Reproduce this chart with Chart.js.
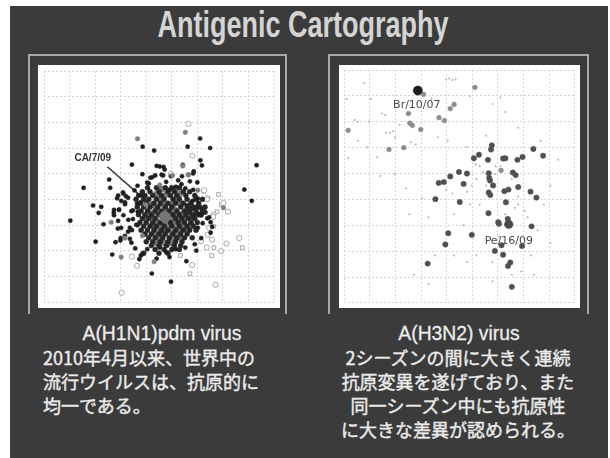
<!DOCTYPE html>
<html>
<head>
<meta charset="utf-8">
<script src="https://cdn.jsdelivr.net/npm/chart.js@4"></script>
<style>
  html, body { margin:0; padding:0; background:#fff; }
  body { width:610px; height:458px; position:relative; overflow:hidden; }
  .slide { position:absolute; left:10px; top:6px; width:598px; height:452px; background:#3b3b3b; }
  .title { position:absolute; left:0; width:606px; top:7px; text-align:center; color:#d4d4d4;
    font:bold 36px/36px "Liberation Sans", Arial, sans-serif; transform:scaleX(.75); }
  .frame { position:absolute; top:54px; height:258px; border:2px solid #a9a9a9; border-bottom:none; }
  .plot { position:absolute; top:65px; background:#fff; }
  .cap { position:absolute; color:#ececec; }
  .head { font:21px/24px "Liberation Sans", Arial, sans-serif; text-align:center; transform:scaleX(.92); -webkit-text-stroke:.3px #ececec; }
  .jp { font:18px/24px "Noto Sans CJK JP", sans-serif; -webkit-text-stroke:.4px #ececec; }
</style>
</head>
<body>
<div class="slide"></div>
<div class="title">Antigenic Cartography</div>
<div class="frame" style="left:28px;width:255px"></div>
<div class="frame" style="left:328px;width:257px"></div>
<canvas id="h1n1" class="plot" width="242" height="243" style="left:38px"></canvas>
<canvas id="h3n2" class="plot" width="241" height="243" style="left:339px"></canvas>

<div class="cap head" style="left:62px;width:200px;top:321px">A(H1N1)pdm virus</div>
<div class="cap jp" style="left:43px;top:345px;width:250px">2010年4月以来、世界中の<br>流行ウイルスは、抗原的に<br>均一である。</div>
<div class="cap head" style="left:359px;width:200px;top:321px">A(H3N2) virus</div>
<div class="cap jp" style="left:318px;top:345px;width:280px;text-align:center">2シーズンの間に大きく連続<br>抗原変異を遂げており、また<br>同一シーズン中にも抗原性<br>に大きな差異が認められる。</div>

<script>
// grid units: 0..9 across, 0..9 down (y axis reversed)
const h1Dark = [
  [1.03,5.83],[1.55,4.55],[8.32,3.67],[7.84,4.62],[8.13,5.06],[6.11,2.63],[6.5,3.0],[5.62,2.95],[4.31,3.1],
  [3.86,2.95],[5.43,3.66],[6.12,3.48],[6.18,3.68],[3.44,3.65],[3.85,4.02],[2.55,4.23],[2.59,4.55],[1.92,5.24],
  [2.24,5.29],[2.14,5.53],[2.33,5.97],[2.02,6.65],[2.67,7.15],[4.22,7.89],[4.97,8.21],[5.57,7.41],
  [3.09,4.73],[2.9,4.85],[3.21,4.88],[3.02,5.06],[3.17,5.12],[2.74,5.41],[2.93,5.41],[2.74,5.62],[3.11,5.62],
  [2.9,5.84],[3.3,5.8],[3.02,6.11],[3.36,6.11],[3.61,5.99],[3.17,6.42],[2.99,6.6],[2.8,6.67],[3.36,6.54],
  [3.48,5.43],[3.67,5.49],[3.79,5.12],[4.1,4.38],[4.23,4.14],[4.41,3.7],[4.53,3.72],[4.68,3.74],[4.72,3.84],
  [5.84,3.99],[6.0,4.34],[5.71,4.3],[5.25,4.26],[5.38,4.41],[5.53,4.57],[5.84,4.63],[6.02,4.97],[5.81,5.06],
  [6.39,5.74],[6.15,5.62],[6.21,5.93],[6.52,6.3],[6.02,6.11],[4.35,4.07],[4.66,4.07],[4.78,4.32],[5.16,4.51],
  [4.91,4.63],[2.73,5.52],[2.94,5.4],[3.17,5.19],[3.29,4.94],[3.11,4.78],[2.86,4.96],[2.89,6.14],[3.29,6.26],
  [3.0,6.51],[3.42,6.69],[3.57,6.91],[3.85,7.12],[4.04,6.94],[4.53,6.88],[4.78,7.06],[5.16,6.94],[5.53,6.88],
  [5.9,6.75],[6.15,6.51],[5.96,7.0],[4.91,7.25],[4.41,7.31],[3.79,7.19],[3.73,7.33],[6.46,5.7],[6.58,6.07],
  [6.52,5.89],[6.09,5.58],[5.86,3.91],[5.65,4.04],[5.4,4.1],[4.97,4.1],[4.6,4.04],[4.16,4.16],[4.04,4.35],
  [3.66,4.47],[3.54,4.65],[3.79,4.84],[3.64,5.17],[3.42,5.46],[3.48,5.77],[3.66,6.01],[3.44,6.2]
];
const h1DarkCore = [
  [4.05,4.55],[4.4,4.55],[4.75,4.55],[5.0,4.55],[5.3,4.55],
  [3.85,4.7],[4.15,4.7],[4.5,4.7],[4.85,4.7],[5.1,4.7],[5.45,4.7],[5.7,4.7],
  [3.7,4.85],[3.95,4.85],[4.25,4.85],[4.6,4.85],[4.95,4.85],[5.2,4.85],[5.55,4.85],[5.9,4.85],
  [3.6,5.0],[3.9,5.0],[4.1,5.0],[4.4,5.0],[4.7,5.0],[5.05,5.0],[5.3,5.0],[5.6,5.0],[5.95,5.0],[6.2,5.0],
  [3.75,5.15],[4.0,5.15],[4.3,5.15],[4.55,5.15],[4.85,5.15],[5.15,5.15],[5.45,5.15],[5.75,5.15],[6.05,5.15],
  [3.65,5.3],[3.9,5.3],[4.15,5.3],[4.45,5.3],[4.75,5.3],[5.0,5.3],[5.35,5.3],[5.65,5.3],[5.85,5.3],[6.1,5.3],[6.3,5.3],
  [3.8,5.45],[4.05,5.45],[4.35,5.45],[4.6,5.45],[4.9,5.45],[5.2,5.45],[5.5,5.45],[5.7,5.45],[5.95,5.45],[6.2,5.45],
  [3.7,5.6],[3.95,5.6],[4.2,5.6],[4.5,5.6],[5.05,5.6],[5.3,5.6],[5.55,5.6],[5.8,5.6],[6.05,5.6],
  [3.85,5.75],[4.1,5.75],[4.35,5.75],[5.15,5.75],[5.4,5.75],[5.65,5.75],[5.9,5.75],
  [3.75,5.9],[4.0,5.9],[4.25,5.9],[4.55,5.9],[4.95,5.9],[5.25,5.9],[5.5,5.9],[5.75,5.9],[6.0,5.9],
  [3.9,6.05],[4.15,6.05],[4.4,6.05],[4.7,6.05],[5.0,6.05],[5.3,6.05],[5.6,6.05],[5.85,6.05],
  [3.8,6.2],[4.05,6.2],[4.3,6.2],[4.6,6.2],[4.85,6.2],[5.15,6.2],[5.45,6.2],[5.7,6.2],[5.95,6.2],
  [3.95,6.35],[4.2,6.35],[4.5,6.35],[4.75,6.35],[5.05,6.35],[5.35,6.35],[5.6,6.35],
  [4.1,6.5],[4.35,6.5],[4.65,6.5],[4.9,6.5],[5.2,6.5],[5.5,6.5],[5.8,6.5],
  [4.0,6.65],[4.25,6.65],[4.55,6.65],[4.85,6.65],[5.15,6.65],[5.4,6.65],
  [4.2,6.8],[4.5,6.8],[4.8,6.8],[5.1,6.8],[5.35,6.8],[4.35,6.95],[4.7,6.95],[5.0,6.95],[5.3,6.95],
  [3.9,7.1],[4.5,7.1],[4.85,7.1],
  [5.6,5.25],[5.8,5.35],[6.0,5.3],[6.2,5.4],[5.7,5.5],[5.95,5.55],[6.15,5.6],[6.3,5.5],[5.85,5.7]
];
const h1Gray = [
  [3.66,2.64],[5.53,2.39],[3.02,7.25],[4.31,7.43],[6.02,4.65],[2.63,5.89],[3.17,6.51],[3.98,5.21],[5.65,4.05],
  [5.03,4.07],[4.53,4.44],[3.85,6.42],[5.43,3.7],[7.02,5.33]
];
const h1GrayCore = [
  [4.6,4.6],[5.15,4.6],[4.4,4.8],[4.8,4.8],[5.3,4.8],[4.55,5.0],[5.15,5.0],
  [4.25,5.2],[4.65,5.2],[5.0,5.2],[5.35,5.2],[4.4,5.4],[4.75,5.4],[5.1,5.4],[5.6,5.4],
  [4.2,5.55],[4.35,5.55],[4.95,5.55],[5.2,5.55],[5.45,5.55],
  [4.0,5.7],[4.3,5.7],[4.95,5.7],[5.25,5.7],[5.55,5.7],[5.8,5.7],
  [4.4,5.85],[4.7,5.85],[5.1,5.85],[5.4,5.85],
  [4.25,6.0],[4.55,6.0],[4.85,6.0],[5.15,6.0],[5.45,6.0],[5.75,6.0],
  [4.45,6.15],[4.75,6.15],[5.3,6.15],[5.55,6.15],[4.35,6.3],[4.65,6.3],[5.0,6.3],[5.25,6.3],
  [4.5,6.5],[5.05,6.5],[5.35,6.5],[4.4,6.7],[4.7,6.7],[5.0,6.7]
];
const h1OpenCircle = [
  [5.65,2.06],[5.81,3.3],[3.04,8.64],[6.71,8.33],[5.8,7.56],[3.64,7.59],[3.44,7.23],[6.93,7.02],[7.14,6.72],
  [7.64,6.51],[6.37,6.88],[6.58,6.57],[6.4,6.38],[6.15,6.63],[6.4,4.96],[7.02,5.15],[7.2,5.48],[6.63,5.6],
  [6.27,4.65],[6.37,5.0],[6.62,5.68],[6.46,6.11],[4.97,4.01]
];
const h1OpenSquare = [
  [5.71,7.9],[5.34,7.19],[6.56,7.19],[6.65,6.88],[7.76,6.88],[6.83,4.81],[6.77,5.48],[6.93,5.21],[6.64,6.05],[6.25,4.69]
];
const h1Ref = [[4.72,5.68]];           // CA/7/09
const h1Pointer = [[2.48,3.73],[4.72,5.68]];

const h3Dark = [
  [5.76,2.91],[5.73,3.07],[7.38,3.05],[7.76,3.31],[5.26,3.27],[5.06,3.41],[5.61,3.47],[6.2,3.42],[6.29,3.41],
  [6.76,3.47],[6.96,3.36],[4.48,3.94],[4.79,4.0],[4.14,4.11],[5.64,3.99],[6.58,3.96],[6.69,4.06],[5.66,4.17],
  [5.69,4.27],[3.69,4.36],[3.89,4.33],[4.66,4.4],[5.81,4.46],[6.79,4.52],[6.41,4.62],[6.25,4.68],[5.64,4.73],
  [5.7,4.83],[7.27,4.7],[7.5,4.93],[3.56,4.99],[4.51,5.1],[6.31,5.11],[5.63,5.53],[6.01,5.88],[6.04,5.94],
  [6.38,5.75],[7.31,6.04],[4.06,6.31],[4.98,6.37],[3.95,6.74],[6.14,6.77],[6.94,6.8],[5.88,6.99],[6.2,7.14],
  [6.48,7.44],[6.39,7.57],[3.26,7.48],[6.54,8.38]
];
const h3Gray = [
  [3.1,0.94],[5.1,0.67],[4.29,1.33],[4.14,1.49],[2.51,1.68],[2.56,2.05],[2.66,2.14],[2.99,2.3],[3.7,1.84],
  [3.91,1.95],[0.16,2.33],[1.75,3.07],[2.33,3.0],[6.12,3.88]
];
const h3Specks = [
  [4.1,0.32],[4.22,0.38],[4.35,0.36],[3.98,0.36],[0.41,1.93],[0.54,1.99],[0.98,1.99],[1.48,1.68],[1.6,1.74],
  [1.91,2.36],[1.79,2.42],[1.64,2.42],[1.98,2.6],[2.16,2.11],[2.6,2.79],[2.79,2.88],[1.29,3.37],[0.16,3.41],
  [0.54,2.73],[0.91,2.98],[1.98,4.02],[3.66,2.6],[4.04,2.73],[4.79,2.98],[5.79,1.31],[6.1,1.06],[5.54,2.54],
  [5.14,3.65],[5.29,3.72],[5.91,3.72],[5.41,3.96],[5.89,4.02],[5.16,4.21],[4.98,4.46],[4.79,4.7],[4.22,4.77],
  [3.98,4.64],[4.91,5.2],[5.29,5.2],[6.79,5.2],[7.04,5.44],[7.54,6.19],[8.04,6.68],[7.29,7.17],[6.91,7.79],
  [7.41,7.91],[5.79,7.42],[5.16,7.17],[4.79,7.42],[4.29,7.17],[3.54,7.17],[2.73,7.91],[3.29,8.28],[2.54,5.57],
  [3.29,5.69],[4.29,5.57],[4.66,6.0],[6.29,5.57],[6.66,5.32],[1.04,1.12],[0.1,1.12],[0.79,0.51],[4.91,1.0],
  [3.41,1.12],[1.41,4.09],[2.41,4.58],[3.04,4.95],[8.04,4.46],[7.79,5.2],[8.35,3.47],[7.66,2.73],[6.79,2.23],
  [6.29,1.62],[5.79,2.98],[6.1,3.72],[5.54,4.46],[6.54,4.21],[6.79,4.89],[7.16,5.69],[6.04,6.43],[6.79,6.43],
  [5.79,8.16],[6.54,7.91]
];
const h3Br = [[2.875,0.79]];           // Br/10/07
const h3Pe = [[6.42,5.96]];            // Pe/16/09

const h1Labels = [{ text:'CA/7/09', x:1.19, y:3.52, font:'bold 10px "Liberation Sans", Arial, sans-serif', color:'#333' }];
const h3Labels = [
  { text:'Br/10/07', x:1.91, y:1.47, font:'11px "DejaVu Sans", sans-serif', color:'#4a4a4a' },
  { text:'Pe/16/09', x:5.48, y:6.72, font:'11px "DejaVu Sans", sans-serif', color:'#4a4a4a' },
];

const pts = arr => arr.map(([x, y]) => ({ x, y }));

const labelPlugin = {
  id: 'mapLabels',
  afterDatasetsDraw(chart, args, opts) {
    const { ctx, scales } = chart;
    ctx.save();
    ctx.textBaseline = 'alphabetic';
    (opts.items || []).forEach(l => {
      ctx.font = l.font;
      ctx.fillStyle = l.color;
      ctx.fillText(l.text, scales.x.getPixelForValue(l.x), scales.y.getPixelForValue(l.y));
    });
    ctx.restore();
  }
};

function dots(data, color, radius, order, extra = {}) {
  return { type:'scatter', data:pts(data), pointRadius:radius, pointBackgroundColor:color,
    pointBorderColor:color, pointBorderWidth:0.5, order, ...extra };
}

function map(canvasId, datasets, labels) {
  const axis = reverse => ({
    type:'linear', min:0, max:9, reverse,
    ticks:{ display:false, stepSize:1 },
    grid:{ color:'#d6d6d6', lineWidth:1, drawTicks:false },
    border:{ display:false, dash:[2,2] },
  });
  return new Chart(document.getElementById(canvasId), {
    type:'scatter',
    data:{ datasets },
    options:{
      responsive:false, animation:false, devicePixelRatio:1,
      layout:{ padding:0 },
      plugins:{ legend:{ display:false }, tooltip:{ enabled:false }, mapLabels:{ items:labels } },
      scales:{ x:axis(false), y:axis(true) },
    },
    plugins:[labelPlugin],
  });
}

// higher order is drawn first (underneath)
map('h1n1', [
  { type:'line', data:pts(h1Pointer), borderColor:'#3a3a3a', borderWidth:1.6, pointRadius:0, order:9 },
  dots(h1OpenCircle, '#ffffff', 2.6, 8, { pointBorderColor:'#a8a8a8', pointBorderWidth:1 }),
  dots(h1OpenSquare, '#ffffff', 2.6, 8, { pointStyle:'rect', pointBorderColor:'#a8a8a8', pointBorderWidth:1 }),
  dots(h1GrayCore, '#7a7a7a', 3.2, 7),
  dots(h1DarkCore, '#262626', 2.5, 5),
  dots(h1Dark, '#1f1f1f', 2.1, 4),
  dots(h1Gray, '#808080', 2.3, 3),
  dots(h1Ref, '#767676', 5.5, 1),
], h1Labels);

map('h3n2', [
  dots(h3Specks, '#b0b0b0', 1.0, 8, { pointBorderWidth:0 }),
  dots(h3Gray, '#8c8c8c', 2.4, 6),
  dots(h3Dark, '#505050', 2.7, 4),
  dots(h3Pe, '#4a4a4a', 4.3, 2),
  dots(h3Br, '#1e1e1e', 4.6, 1),
], h3Labels);
</script>
</body>
</html>
